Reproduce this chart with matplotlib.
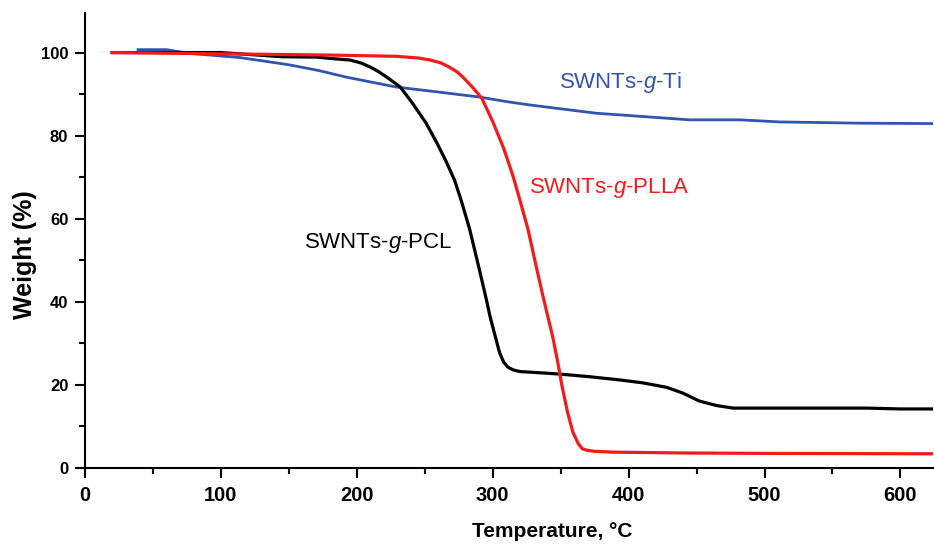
import matplotlib
matplotlib.use("Agg")
import matplotlib.pyplot as plt
from matplotlib.ticker import MultipleLocator

plt.rcParams['font.family'] = ['Liberation Sans', 'DejaVu Sans']
plt.rcParams['mathtext.fontset'] = 'custom'
plt.rcParams['mathtext.rm'] = 'Liberation Sans'
plt.rcParams['mathtext.it'] = 'Liberation Sans:italic'

# TGA curves (temperature in C, weight in %)
pcl_t = [20, 60, 100, 145, 171, 180, 195, 203, 210, 216, 222, 232, 241, 251,
         259, 266, 272, 277, 283, 290, 295, 298, 302, 305, 308, 311, 315, 320,
         335, 349, 370, 393, 410, 428, 440, 452, 465, 477, 520, 575, 600, 624]
pcl_w = [100, 100, 100, 99.0, 98.9, 98.6, 98.2, 97.5, 96.5, 95.4, 94.1, 91.7,
         87.8, 83.0, 78.2, 73.6, 69.2, 64.2, 57.5, 48.0, 41.0, 36.5, 31.5, 27.8,
         25.5, 24.3, 23.6, 23.2, 22.9, 22.6, 22.0, 21.2, 20.5, 19.4, 18.0, 16.1,
         15.0, 14.4, 14.4, 14.4, 14.2, 14.2]

plla_t = [20, 100, 180, 229, 245, 254, 262, 268, 274, 278, 285, 292, 300, 308,
          315, 320, 326, 332, 337, 340, 344, 348, 351, 355, 359, 363, 366, 370,
          375, 388, 440, 500, 624]
plla_w = [100, 99.7, 99.4, 99.1, 98.7, 98.2, 97.5, 96.5, 95.3, 94.1, 91.7, 89.0,
          83.4, 77.0, 70.2, 64.5, 57.4, 48.5, 41.3, 37.2, 31.8, 25.2, 19.7, 13.5,
          8.6, 5.8, 4.6, 4.2, 4.0, 3.8, 3.6, 3.5, 3.4]

ti_t = [39, 60, 77, 114, 143, 151, 173, 192, 229, 260, 290, 312, 327, 376,
        445, 482, 511, 570, 624]
ti_w = [100.7, 100.7, 99.8, 98.8, 97.4, 97.0, 95.6, 94.1, 91.7, 90.5, 89.3,
        88.1, 87.4, 85.4, 83.8, 83.8, 83.3, 83.0, 82.9]

blue = '#2f55b0'
red = '#f51a1a'

fig = plt.figure(figsize=(9.34, 5.46), dpi=100)
ax = fig.add_axes([0.091, 0.143, 0.908, 0.833])

ax.plot(ti_t, ti_w, color=blue, lw=2.0)
ax.plot(pcl_t, pcl_w, color='black', lw=2.3)
ax.plot(plla_t, plla_w, color=red, lw=2.3)

ax.text(349, 92.9, 'SWNTs-$g$-Ti', color=blue, fontsize=16, va='center')
ax.text(327, 67.5, 'SWNTs-$g$-PLLA', color=red, fontsize=16, va='center')
ax.text(161, 54.2, 'SWNTs-$g$-PCL', color='black', fontsize=16, va='center')

ax.set_xlim(0, 624)
ax.set_ylim(0, 109.5)
ax.xaxis.set_major_locator(MultipleLocator(100))
ax.xaxis.set_minor_locator(MultipleLocator(50))
ax.yaxis.set_major_locator(MultipleLocator(20))
ax.yaxis.set_minor_locator(MultipleLocator(10))

for s in ['top', 'right']:
    ax.spines[s].set_visible(False)
for s in ['left', 'bottom']:
    ax.spines[s].set_linewidth(1.5)

ax.tick_params(which='major', direction='out', length=7, width=1.5)
ax.tick_params(which='minor', direction='out', length=4, width=1.5)
ax.tick_params(axis='x', labelsize=14.5, pad=6)
ax.tick_params(axis='y', labelsize=12, pad=5)
for lab in ax.get_xticklabels() + ax.get_yticklabels():
    lab.set_fontweight('bold')

fig.text(0.027, 0.533, 'Weight (%)', rotation=90, fontsize=18,
         fontweight='bold', ha='center', va='center')
fig.text(0.591, 0.016, 'Temperature, \u00b0C', fontsize=15,
         fontweight='bold', ha='center', va='baseline')

fig.savefig('out.png', dpi=100)
